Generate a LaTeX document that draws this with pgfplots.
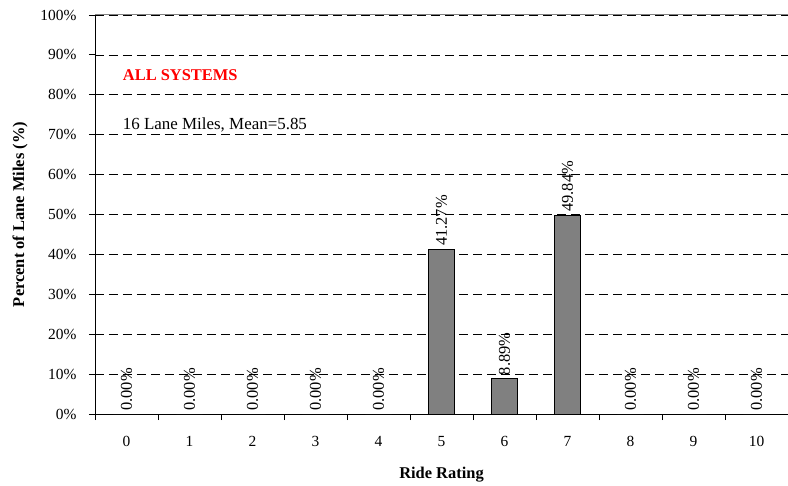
\documentclass[border=0pt]{standalone}
\usepackage{fontspec}
\setmainfont{Liberation Serif}
\usepackage{pgfplots}
\pgfplotsset{compat=1.18}
\begin{document}
\begin{tikzpicture}[x=1bp,y=1bp]
\path[use as bounding box] (-95bp,-72bp) rectangle (693bp,414bp);
\begin{axis}[
  at={(0,0)}, anchor=south west,
  scale only axis, width=693bp, height=399bp,
  xmin=-0.5, xmax=10.5, ymin=0, ymax=100,
  axis x line*=bottom, axis y line*=left,
  axis line style={-, black, line width=0.9pt},
  xtick={-0.5,0.5,...,10.5},
  x tick label as interval,
  xticklabels={0,1,2,3,4,5,6,7,8,9,10},
  ytick={0,10,...,100},
  yticklabel={\pgfmathprintnumber{\tick}\%},
  tick align=outside,
  major tick length=6bp,
  tick style={black, line width=0.8pt},
  ymajorgrids,
  grid style={black, line width=0.6pt, dash pattern=on 9bp off 5bp},
  /pgf/number format/assume math mode=true,
  tick label style={font=\fontsize{15.5}{18}\selectfont},
  xticklabel style={yshift=-13bp},
  yticklabel style={xshift=-9bp},
  xlabel={\textbf{Ride Rating}},
  ylabel={\textbf{Percent of Lane Miles (\%)}},
  label style={font=\fontsize{16.5}{19}\selectfont},
  xlabel style={yshift=-13bp},
  ylabel style={yshift=6bp},
  clip=false,
]
\addplot[ybar, bar width=0.41, fill={rgb,255:red,128;green,128;blue,128}, draw=black, line width=0.9pt,
  nodes near coords={\pgfmathprintnumber[fixed,precision=2,zerofill]{\pgfplotspointmeta}\%},
  nodes near coords style={rotate=90, anchor=west, font=\fontsize{16.5}{19}\selectfont, inner sep=3bp},
  point meta=y]
coordinates {(0,0) (1,0) (2,0) (3,0) (4,0) (5,41.27) (6,8.89) (7,49.84) (8,0) (9,0) (10,0)};
\draw[gray, line width=1pt] (axis cs:-0.5,100) -- (axis cs:10.5,100);
\node[anchor=west, text=red, font=\fontsize{16.5}{19}\selectfont\bfseries, inner sep=0pt] at (axis cs:-0.06,85) {ALL SYSTEMS};
\node[anchor=west, font=\fontsize{17}{20}\selectfont, inner sep=0pt] at (axis cs:-0.06,72.4) {16 Lane Miles, Mean=5.85};
\end{axis}
\end{tikzpicture}
\end{document}
